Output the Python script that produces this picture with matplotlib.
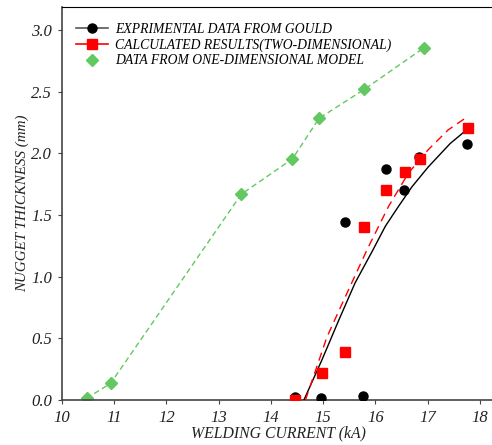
import matplotlib
matplotlib.use("Agg")
import matplotlib.pyplot as plt
from matplotlib.lines import Line2D

# Experimental data (Gould)
exp_x = [14.46, 14.96, 15.42, 15.77, 16.20, 16.55, 16.83, 17.76]
exp_y = [0.027, 0.02, 1.446, 0.03, 1.876, 1.70, 1.97, 2.076]
# Line through experimental data (solid black)
exp_line_x = [14.63, 14.98, 15.30, 15.61, 15.93, 16.19, 16.44, 16.70, 17.01, 17.43, 17.77]
exp_line_y = [0.0, 0.33, 0.65, 0.95, 1.20, 1.41, 1.57, 1.73, 1.89, 2.08, 2.20]

# Calculated results (two-dimensional)
calc_x = [14.46, 14.97, 15.42, 15.79, 16.21, 16.56, 16.85, 17.77]
calc_y = [0.0, 0.216, 0.386, 1.40, 1.70, 1.85, 1.955, 2.206]
calc_line_x = [14.66, 15.07, 15.36, 15.84, 16.25, 16.63, 17.01, 17.39, 17.77]
calc_line_y = [0.0, 0.51, 0.78, 1.22, 1.57, 1.84, 2.03, 2.19, 2.30]

# One-dimensional model
one_x = [10.47, 10.93, 13.43, 14.41, 14.92, 15.79, 16.93]
one_y = [0.014, 0.135, 1.668, 1.955, 2.284, 2.52, 2.857]

xticks = [10, 11, 12, 13, 14, 15, 16, 17, 18]
yticks = [0.0, 0.5, 1.0, 1.5, 2.0, 2.5, 3.0]

plt.rcParams['font.family'] = ['Liberation Serif', 'DejaVu Serif']
plt.rcParams['font.style'] = 'italic'

fig = plt.figure(figsize=(4.92, 4.45), dpi=100)
ax = fig.add_axes([0.126, 0.101, 0.88, 0.883])

green = '#62c862'
ax.plot(one_x, one_y, linestyle=(0, (4, 2.5)), color=green, lw=1.0,
        marker='D', ms=6, mfc=green, mec=green, zorder=2)
ax.plot(exp_line_x, exp_line_y, '-', color='black', lw=1.0, zorder=3)
ax.plot(calc_line_x, calc_line_y, linestyle=(0, (6, 4)), color='red', lw=1.0, zorder=3)
ax.plot(exp_x, exp_y, 'o', color='black', ms=6.5, ls='none', zorder=4)
ax.plot(calc_x, calc_y, 's', color='red', ms=6.5, ls='none', zorder=5)

ax.set_xlim(10, 18.287)
ax.set_ylim(0, 3.186)
ax.set_xticks(xticks)
ax.set_yticks(yticks)
ax.set_xticklabels([str(t) for t in xticks])
ax.set_yticklabels([f"{t:.1f}" for t in yticks])

for s in ['left', 'bottom']:
    ax.spines[s].set_color('#444444')
    ax.spines[s].set_linewidth(1.2)
ax.spines['top'].set_color('black')
ax.spines['top'].set_linewidth(0.8)
ax.spines['right'].set_visible(False)
ax.tick_params(direction='out', length=3, width=0.8, colors='#444444',
               labelsize=12, labelcolor='#222222', pad=4)

ax.set_xlabel('WELDING CURRENT (kA)', fontsize=11.3, color='#222222', labelpad=0)
ax.set_ylabel('NUGGET THICKNESS (mm)', fontsize=10.8, color='#222222', labelpad=2)

handles = [
    Line2D([], [], color='#555555', lw=1.2, marker='o', mfc='black', mec='black', ms=6.5),
    Line2D([], [], color='red', lw=1.2, marker='s', mfc='red', mec='red', ms=6.5),
    Line2D([], [], color=green, ls='none', marker='D', mfc=green, mec=green, ms=6),
]
labels = ['EXPRIMENTAL DATA FROM GOULD',
          'CALCULATED RESULTS(TWO-DIMENSIONAL)',
          'DATA FROM ONE-DIMENSIONAL MODEL']
ax.legend(handles, labels, loc='upper left', bbox_to_anchor=(0.01, 0.985),
          frameon=False, fontsize=9.8, handlelength=2.35, labelspacing=0.2,
          handletextpad=0.55, borderaxespad=0.3)

fig.savefig('out.png', dpi=100)
